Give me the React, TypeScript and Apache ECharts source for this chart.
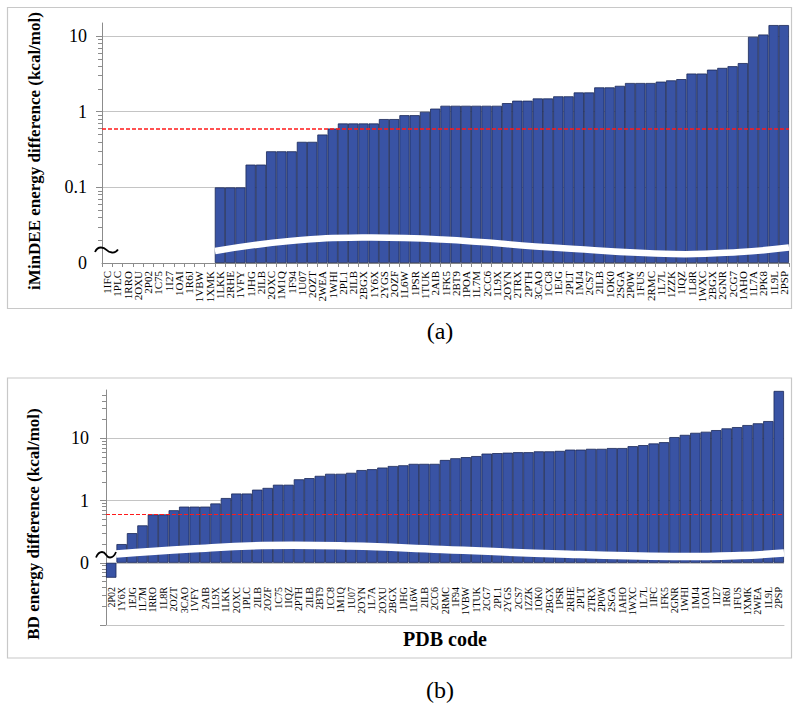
import React, { useEffect, useRef } from "react";
import * as echarts from "echarts";

// ---------- data ----------
const aCodes = ["1IFC","1PLC","1RRO","2OXU","2P02","1C75","1I27","1OAI","1R6J","1VBW","1XMK","1LKK","2RHE","1VFY","1JHG","2ILB","2OXC","1M1Q","1F94","1U07","2OZT","2WEA","1WHI","2PL1","2ILB","2BGX","1Y6X","2YGS","2OZF","1L6W","1PSR","1TUK","2AIB","1FK5","2BT9","1POA","1L7M","2CC6","1L9X","2OYN","2TRX","2PTH","3CAO","1CC8","1EJG","2PLT","1MJ4","2CS7","2ILB","1OK0","2SGA","2P0W","1FUS","2RMC","1L7L","1ZZK","1IQZ","1L8R","1WXC","2BGX","2GNR","2CG7","1AHO","1L7A","2PK8","1L9L","2PSP"];
const aValues = [0,0,0,0,0,0,0,0,0,0,0,0.1,0.1,0.1,0.2,0.2,0.3,0.3,0.3,0.4,0.4,0.5,0.6,0.7,0.7,0.7,0.7,0.8,0.8,0.9,0.9,1.0,1.1,1.2,1.2,1.2,1.2,1.2,1.2,1.3,1.4,1.4,1.5,1.5,1.6,1.6,1.8,1.8,2.1,2.1,2.2,2.4,2.4,2.4,2.5,2.6,2.7,3.2,3.2,3.6,3.8,4.0,4.4,9.8,10.5,14,14];

const bCodes = ["2P02","1Y6X","1EJG","1L7M","1RRO","1L8R","2OZT","3CAO","1VFY","2AIB","1L9X","1LKK","2OXC","1PLC","2ILB","2OZF","1C75","1IQZ","2PTH","2ILB","2BT9","1CC8","1M1Q","1U07","2OYN","1L7A","2OXU","2BGX","1JHG","1L6W","2ILB","2CC6","2RMC","1F94","1VBW","1TUK","2CG7","2PL1","2YGS","2CS7","1ZZK","1OK0","2BGX","1PSR","2RHE","2PLT","2TRX","2P0W","2SGA","1AHO","1WXC","1L7L","1IFC","1FK5","2GNR","1WHI","1MJ4","1OAI","1I27","1R6J","1FUS","1XMK","2WEA","1L9L","2PSP"];
const bValues = [-0.24,0.2,0.3,0.4,0.6,0.6,0.7,0.8,0.8,0.8,0.9,1.1,1.3,1.3,1.5,1.6,1.8,1.8,2.2,2.3,2.5,2.7,2.7,2.8,3.1,3.2,3.4,3.6,3.7,3.9,3.9,3.9,4.5,4.8,5.0,5.2,5.7,5.8,5.9,6.0,6.0,6.2,6.2,6.3,6.6,6.6,6.8,6.8,7.0,7.0,7.5,7.8,8.3,8.7,10.5,11.4,12.3,12.8,13.6,14.5,15.2,16.4,17.5,19,58];

const threshold = 0.6;

const aTickValues = [0, 0.1, 1, 10];
const aTickLabels = ["0", "0.1", "1", "10"];
const aGridValues = [0.1, 1, 10];
const aBase = 0.01;
const aTop = 14.9;

const bTickValues = [0, 1, 10];
const bTickLabels = ["0", "1", "10"];
const bGridValues = [0.01, 0, 1, 10];
const bBase = 0.1;
const bBottom = 0.01;
const bTop = 60;

const minorMultipliers = [2, 3, 4, 5, 6, 7, 8, 9];
const decades = [0.01, 0.1, 1, 10];

const aTitle = "iMinDEE energy difference (kcal/mol)";
const bTitle = "BD energy difference (kcal/mol)";
const xTitle = "PDB code";

// ---------- helpers ----------
const SERIF = "'Liberation Serif', 'Times New Roman', serif";
const BAR = "#3953a4";
const BAR_EDGE = "#1b2858";
const GRID = "#c4c4c4";
const AXIS = "#8c8c8c";

// position on the broken log axis, measured in decades above the "0" baseline
const toU = (v: number, base: number) => (v > 0 ? Math.log10(v / base) : v);

const minorTicks = (base: number, top: number) => {
  const out: number[] = [];
  decades.forEach((d) =>
    minorMultipliers.forEach((k) => {
      const v = k * d;
      if (v < top) out.push(toU(v, base));
    })
  );
  return out;
};

const labelFor = (u: number, vals: number[], labels: string[], base: number) => {
  let best = 0;
  let bd = Infinity;
  vals.forEach((v, i) => {
    const d = Math.abs(toU(v, base) - u);
    if (d < bd) {
      bd = d;
      best = i;
    }
  });
  return labels[best];
};

export default function App() {
  const ref = useRef<HTMLDivElement>(null);

  useEffect(() => {
    document.body.style.margin = "0";
    if (!ref.current) return;
    const chart = echarts.init(ref.current, undefined, { renderer: "svg" });

    const aMin = 0;
    const aMax = toU(aTop, aBase);
    const bMin = toU(bBottom, bBase);
    const bMax = toU(bTop, bBase);

    const catAxis = (codes: string[], gridIndex: number, margin: number, ticks: boolean, fs: number) => ({
      type: "category",
      gridIndex,
      data: codes,
      axisLine: { onZero: false, lineStyle: { color: ticks ? AXIS : GRID, width: 1 } },
      axisTick: { show: ticks, length: 4, lineStyle: { color: AXIS } },
      axisLabel: {
        interval: 0,
        rotate: 90,
        margin,
        fontFamily: SERIF,
        fontSize: fs,
        color: "#000",
      },
      splitLine: { show: false },
    });

    const mainY = (
      gridIndex: number,
      min: number,
      max: number,
      base: number,
      tickVals: number[],
      tickLabels: string[],
      gridVals: number[],
      margin: number
    ) => ({
      type: "value",
      gridIndex,
      position: "left",
      min,
      max,
      axisLine: { show: true, lineStyle: { color: AXIS, width: 1 } },
      axisTick: {
        show: true,
        length: 6,
        lineStyle: { color: AXIS },
        customValues: gridVals.map((v) => toU(v, base)),
      },
      splitLine: { show: true, lineStyle: { color: GRID, width: 1 } },
      axisLabel: {
        customValues: tickVals.map((v) => toU(v, base)),
        formatter: (u: number) => labelFor(u, tickVals, tickLabels, base),
        fontFamily: SERIF,
        fontSize: 18,
        color: "#000",
        margin,
      },
    });

    const minorY = (gridIndex: number, min: number, max: number, base: number, top: number) => ({
      type: "value",
      gridIndex,
      position: "left",
      min,
      max,
      axisLine: { show: false },
      axisLabel: { show: false },
      splitLine: { show: false },
      axisTick: {
        show: true,
        length: 4,
        lineStyle: { color: AXIS },
        customValues: minorTicks(base, top),
      },
    });

    const barSeries = (values: number[], base: number, xi: number, yi: number, lw: number) => ({
      type: "bar",
      xAxisIndex: xi,
      yAxisIndex: yi,
      data: values.map((v) => (v === 0 ? "-" : toU(v, base))),
      barCategoryGap: "0%",
      itemStyle: { color: BAR, borderColor: BAR_EDGE, borderWidth: 0.8 },
      markLine: {
        silent: true,
        symbol: "none",
        label: { show: false },
        lineStyle: { color: "#ff1a1a", type: [4, 2], width: lw },
        data: [{ yAxis: toU(threshold, base) }],
      },
    });

    const band = (points: number[][], w: number) => ({
      type: "polyline",
      z: 100,
      silent: true,
      shape: { points, smooth: 0.45 },
      style: { stroke: "#ffffff", lineWidth: w, fill: null, lineCap: "butt" },
    });
    const tilde = (points: number[][]) => ({
      type: "polyline",
      z: 101,
      silent: true,
      shape: { points, smooth: 0.6 },
      style: { stroke: "#000000", lineWidth: 1.8, fill: null },
    });
    const vText = (text: string, x: number, y: number) => ({
      type: "text",
      x,
      y,
      rotation: Math.PI / 2,
      style: {
        text,
        font: `bold 17px ${SERIF}`,
        fill: "#000",
        align: "center",
        verticalAlign: "middle",
      },
    });
    const hText = (text: string, x: number, y: number, font: string) => ({
      type: "text",
      x,
      y,
      style: { text, font, fill: "#000", align: "center", verticalAlign: "middle" },
    });

    chart.setOption({
      animation: false,
      grid: [
        { left: 102, right: 11, top: 23, height: 240, containLabel: false },
        { left: 106, right: 16, top: 390, height: 235, containLabel: false },
      ],
      xAxis: [catAxis(aCodes, 0, 8, true, 11), catAxis(bCodes, 1, -38, false, 10)],
      yAxis: [
        mainY(0, aMin, aMax, aBase, aTickValues, aTickLabels, aGridValues, 15),
        minorY(0, aMin, aMax, aBase, aTop),
        mainY(1, bMin, bMax, bBase, bTickValues, bTickLabels, bGridValues, 17),
        minorY(1, bMin, bMax, bBase, bTop),
      ],
      series: [barSeries(aValues, aBase, 0, 0, 1.5), barSeries(bValues, bBase, 1, 2, 1.2)],
      graphic: [
        {
          type: "rect",
          z: 0,
          silent: true,
          shape: { x: 7.5, y: 7.5, width: 784, height: 301 },
          style: { fill: null, stroke: "#c8c8c8", lineWidth: 1.2 },
        },
        {
          type: "rect",
          z: 0,
          silent: true,
          shape: { x: 7.5, y: 378, width: 784, height: 280 },
          style: { fill: null, stroke: "#c8c8c8", lineWidth: 1.2 },
        },
        band(
          [[215, 251], [290, 241], [362, 237.5], [442, 239.5], [560, 248], [673, 254], [740, 252], [789, 247.5]],
          6.5
        ),
        band(
          [[116, 554], [190, 549], [262, 545.5], [350, 546], [442, 549.5], [560, 554], [673, 556.5], [740, 555.5], [784, 553]],
          7.5
        ),
        tilde([[95, 252], [101, 247.5], [112, 252.5], [118, 249.5]]),
        tilde([[96, 557.5], [102, 552], [110, 557.5], [116, 552]]),
        vText(aTitle, 34, 151),
        vText(bTitle, 33.5, 524),
        hText(xTitle, 445, 639, `bold 20px ${SERIF}`),
        hText("(a)", 440, 331, `24px ${SERIF}`),
        hText("(b)", 440, 690, `24px ${SERIF}`),
      ],
    });

    return () => chart.dispose();
  }, []);

  return <div ref={ref} style={{ width: 800, height: 715 }} />;
}
